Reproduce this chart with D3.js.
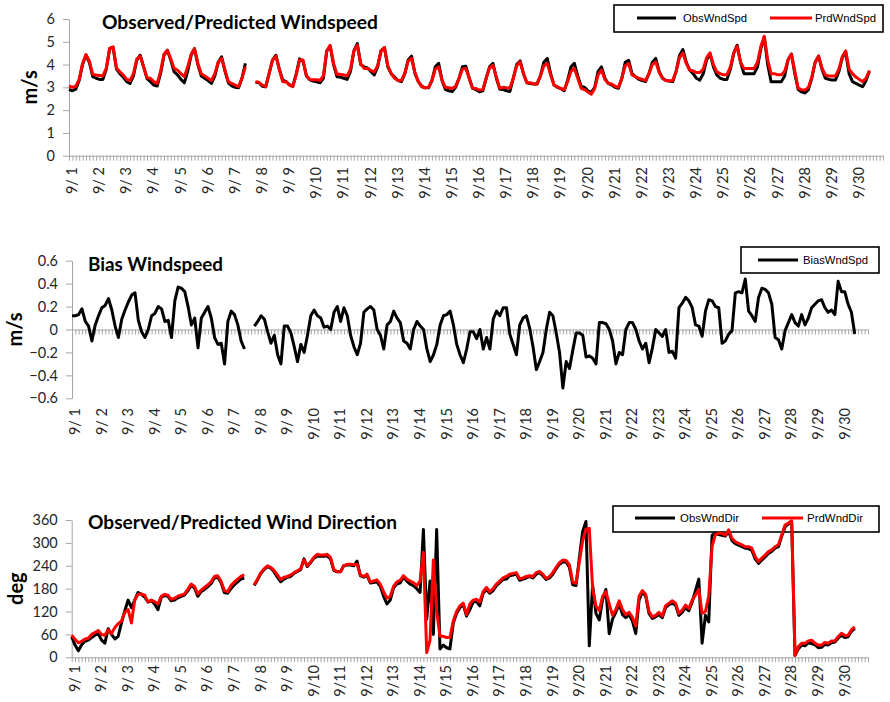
<!DOCTYPE html>
<html><head><meta charset="utf-8">
<script src="https://cdn.jsdelivr.net/npm/d3@7"></script>
<style>
html,body{margin:0;padding:0;background:#fff;}
svg{display:block;}
</style></head><body>
<svg id="chart" width="890" height="702"></svg>
<script>
// ---- data (3-hourly samples starting 9/1 00:00) ----
const seriesStart = Date.UTC(2013, 8, 1);
const stepHours = 3;
const dayLabels = ["9/ 1","9/ 2","9/ 3","9/ 4","9/ 5","9/ 6","9/ 7","9/ 8","9/ 9","9/10",
  "9/11","9/12","9/13","9/14","9/15","9/16","9/17","9/18","9/19","9/20",
  "9/21","9/22","9/23","9/24","9/25","9/26","9/27","9/28","9/29","9/30"];
const speedTicks = [0,1,2,3,4,5,6];
const biasTicks = [-0.6,-0.4,-0.2,0,0.2,0.4,0.6];
const dirTicks = [0,60,120,180,240,300,360];

const obsSpd = [
2.91,2.85,2.92,3.3,4.0,4.41,4.1,3.47,
3.4,3.35,3.35,3.8,4.7,4.75,3.8,3.6,
3.45,3.25,3.17,3.5,4.2,4.41,3.9,3.38,
3.25,3.1,3.06,3.6,4.4,4.63,4.2,3.68,
3.55,3.35,3.2,3.7,4.4,4.7,4.0,3.5,
3.4,3.3,3.17,3.5,4.1,4.34,3.7,3.2,
3.06,3.0,2.98,3.4,4.05,null,null,3.22,
3.2,3.05,3.02,3.6,4.2,4.41,3.8,3.32,
3.25,3.12,3.05,3.6,4.25,4.15,3.5,3.33,
3.28,3.24,3.2,3.4,4.6,4.8,4.0,3.47,
3.45,3.4,3.35,3.7,4.6,4.92,4.0,3.9,
3.85,3.7,3.55,3.9,4.6,4.75,3.9,3.6,
3.45,3.3,3.25,3.6,4.2,4.37,3.6,3.25,
3.05,2.98,2.98,3.3,3.9,4.05,3.3,2.9,
2.85,2.82,3.0,3.4,3.9,3.93,3.4,2.96,
2.9,2.81,2.85,3.4,3.9,4.05,3.4,2.92,
2.9,2.85,2.82,3.4,4.0,4.16,3.6,3.2,
3.17,3.15,3.15,3.5,4.1,4.27,3.6,3.1,
3.0,2.95,2.85,3.3,3.9,4.05,3.5,3.05,
3.0,2.85,2.78,3.0,3.7,3.9,3.4,3.17,
3.1,3.0,2.96,3.4,4.1,4.19,3.6,3.47,
3.35,3.3,3.25,3.6,4.1,4.27,3.7,3.4,
3.3,3.28,3.25,3.7,4.4,4.66,4.1,3.76,
3.6,3.4,3.32,3.6,4.2,4.48,3.9,3.55,
3.4,3.35,3.35,3.8,4.5,4.85,4.1,3.6,
3.6,3.6,3.6,3.9,4.7,5.2,4.0,3.25,
3.25,3.25,3.25,3.5,4.2,4.46,3.6,2.9,
2.8,2.75,2.9,3.4,4.1,4.37,3.8,3.4,
3.35,3.32,3.32,3.7,4.3,4.55,3.6,3.25,
3.17,3.1,3.03,3.3,3.72];

const prdSpd = [
3.06,3.0,3.05,3.35,4.05,4.44,4.15,3.57,
3.54,3.52,3.5,3.85,4.72,4.78,3.85,3.68,
3.55,3.35,3.3,3.6,4.25,4.37,3.9,3.42,
3.4,3.25,3.17,3.7,4.45,4.63,4.25,3.83,
3.75,3.6,3.47,3.9,4.45,4.7,4.05,3.6,
3.5,3.4,3.3,3.6,4.1,4.27,3.75,3.25,
3.17,3.1,3.03,3.4,3.9,null,null,3.25,
3.22,3.1,3.03,3.6,4.2,4.37,3.8,3.25,
3.25,3.1,3.03,3.55,4.2,4.2,3.5,3.35,
3.33,3.33,3.3,3.5,4.6,4.85,4.05,3.57,
3.57,3.55,3.5,3.8,4.6,4.85,4.05,3.83,
3.83,3.75,3.68,3.95,4.6,4.75,3.95,3.6,
3.4,3.3,3.3,3.6,4.15,4.27,3.65,3.25,
3.02,2.98,3.0,3.3,3.8,3.9,3.3,3.0,
2.98,2.95,3.05,3.4,3.8,3.83,3.4,2.96,
2.95,2.88,2.9,3.4,3.85,3.97,3.45,2.96,
3.0,2.98,2.97,3.4,3.95,4.12,3.6,3.2,
3.2,3.15,3.15,3.5,3.95,4.05,3.55,3.1,
3.02,2.95,2.9,3.25,3.7,3.83,3.4,2.96,
2.9,2.8,2.7,2.95,3.55,3.76,3.35,3.17,
3.15,3.05,3.0,3.4,3.95,4.05,3.55,3.47,
3.4,3.35,3.3,3.6,4.0,4.12,3.65,3.4,
3.3,3.28,3.3,3.7,4.3,4.51,4.05,3.76,
3.72,3.65,3.65,3.8,4.3,4.51,4.0,3.68,
3.6,3.55,3.55,3.9,4.5,4.8,4.1,3.83,
3.83,3.83,3.83,4.1,4.8,5.24,4.2,3.6,
3.6,3.55,3.55,3.7,4.2,4.46,3.7,2.96,
2.9,2.88,3.0,3.45,4.1,4.37,3.85,3.54,
3.5,3.5,3.5,3.8,4.35,4.6,3.8,3.6,
3.45,3.35,3.25,3.4,3.74];

const biasSpd = [
0.12,0.12,0.13,0.18,0.07,0.03,-0.1,0.04,
0.12,0.19,0.21,0.27,0.17,0.03,-0.07,0.09,
0.17,0.24,0.3,0.32,0.08,-0.02,-0.07,0.0,
0.12,0.14,0.2,0.18,0.07,0.08,-0.07,0.25,
0.37,0.36,0.33,0.2,0.04,0.1,-0.16,0.1,
0.15,0.2,0.1,-0.07,-0.13,-0.12,-0.3,0.07,
0.16,0.13,0.04,-0.1,-0.17,null,null,0.03,
0.07,0.12,0.09,-0.02,-0.12,-0.05,-0.22,-0.3,
0.03,0.03,-0.03,-0.15,-0.28,-0.13,-0.2,-0.05,
0.12,0.17,0.12,0.1,0.02,0.03,0.0,0.15,
0.2,0.07,0.19,0.12,-0.05,-0.15,-0.22,-0.12,
0.15,0.18,0.2,0.17,0.0,-0.05,-0.17,0.04,
0.07,0.16,0.1,0.06,-0.1,-0.12,-0.17,0.0,
0.07,0.03,0.0,-0.17,-0.28,-0.22,-0.13,0.04,
0.12,0.13,0.16,0.04,-0.13,-0.22,-0.29,-0.17,
-0.02,-0.02,-0.08,0.0,-0.17,-0.07,-0.17,0.09,
0.16,0.12,0.19,0.19,-0.04,-0.13,-0.22,0.04,
0.1,0.12,0.01,-0.15,-0.35,-0.28,-0.2,0.0,
0.15,0.12,-0.03,-0.2,-0.51,-0.28,-0.34,-0.18,
-0.03,-0.03,-0.05,-0.24,-0.23,-0.25,-0.3,0.06,
0.06,0.05,0.0,-0.1,-0.3,-0.2,-0.22,0.0,
0.06,0.06,0.0,-0.1,-0.17,-0.12,-0.29,-0.16,
0.0,-0.03,-0.06,0.0,-0.2,-0.19,-0.25,0.19,
0.23,0.28,0.25,0.19,0.04,0.03,-0.06,0.16,
0.26,0.25,0.2,0.19,-0.12,-0.1,-0.04,-0.01,
0.32,0.33,0.32,0.44,0.16,0.12,0.07,0.28,
0.36,0.35,0.32,0.22,-0.07,-0.09,-0.17,-0.01,
0.06,0.13,0.06,0.03,0.13,0.04,0.1,0.19,
0.22,0.25,0.26,0.19,0.15,0.17,0.13,0.42,
0.33,0.33,0.22,0.15,-0.04];

const obsDir = [
54,32,17,33,42,45,52,58,
62,45,37,75,60,48,55,90,
122,150,130,150,170,165,158,145,
148,140,125,158,162,160,148,150,
156,160,163,174,188,182,160,172,
178,185,193,208,210,196,170,168,
180,190,198,205,208,null,null,188,
203,220,230,238,234,224,210,198,
205,210,212,220,225,230,258,238,
248,260,265,265,265,266,258,228,
224,224,240,242,242,240,252,214,
210,215,195,196,198,186,160,140,
150,182,192,195,210,200,192,188,
180,170,335,100,200,60,335,22,
32,25,22,90,115,130,138,108,
125,145,146,135,168,178,168,175,
188,196,204,205,214,216,218,202,
205,208,212,208,218,222,214,204,
208,218,232,244,250,250,236,190,
188,260,330,356,30,190,115,98,
150,178,62,100,118,140,112,104,
112,95,62,150,172,160,115,102,
106,112,104,130,138,142,137,110,
118,130,122,145,175,205,37,110,
93,320,325,322,320,318,330,306,
298,294,290,286,285,280,258,246,
255,263,272,278,286,290,318,342,
350,352,5,22,32,30,38,36,
33,25,26,34,32,38,40,50,
58,52,54,68,76];

const prdDir = [
58,47,38,42,48,50,60,65,
70,60,58,72,62,78,88,95,
118,125,90,150,165,166,163,145,
150,146,140,160,165,163,152,155,
160,163,166,178,192,186,166,176,
183,190,198,212,214,200,175,172,
188,197,205,212,216,null,null,190,
205,222,232,240,236,228,216,204,
210,212,216,222,227,232,255,240,
250,262,270,268,268,270,262,230,
225,224,240,244,244,243,244,216,
212,218,197,200,203,192,172,155,
160,186,198,202,214,205,200,196,
188,200,275,12,45,255,120,55,
55,52,52,95,120,135,142,112,
140,150,152,145,172,183,172,180,
192,200,208,212,218,220,222,206,
208,212,214,212,222,225,218,207,
212,222,236,248,255,254,242,198,
194,250,305,336,338,181,135,122,
160,172,140,110,125,148,125,112,
118,105,82,160,175,165,120,106,
110,118,108,135,142,148,142,115,
124,137,128,150,163,178,115,120,
160,290,322,325,325,320,334,312,
303,299,295,290,290,286,264,251,
260,268,277,282,290,295,321,347,
352,358,5,28,37,37,43,45,
37,32,32,39,37,43,43,54,
63,57,58,72,80];

// ---- drawing ----
const svg = d3.select("#chart");
const tAt = i => new Date(seriesStart + i * stepHours * 3600e3);
const dayAt = k => new Date(seriesStart + k * 86400e3);
const AXIS = "#a6a6a6";
const TICKFONT = "Lato, 'DejaVu Sans', sans-serif";

function panel(cfg) {
  const x = d3.scaleUtc().domain([dayAt(0), dayAt(30)]).range([cfg.x0, cfg.x1]);
  const y = d3.scaleLinear().domain([cfg.yTicks[0], cfg.yTicks[cfg.yTicks.length-1]]).range([cfg.yBot, cfg.yTop]);
  const g = svg.append("g");

  // legend box (behind data)
  const lg = g.append("g");
  lg.append("rect").attr("x", cfg.legend.x).attr("y", cfg.legend.y)
    .attr("width", cfg.legend.w).attr("height", cfg.legend.h)
    .attr("fill", "none").attr("stroke", "#000").attr("stroke-width", 1.6);
  cfg.legend.items.forEach(it => {
    lg.append("line").attr("x1", it.lx1).attr("x2", it.lx2).attr("y1", cfg.legend.ly).attr("y2", cfg.legend.ly)
      .attr("stroke", it.color).attr("stroke-width", 3);
    lg.append("text").attr("x", it.tx).attr("y", cfg.legend.ly + 4)
      .attr("font-family", "'Liberation Sans', Arial, sans-serif").attr("font-size", 11.5)
      .attr("textLength", it.tl).attr("lengthAdjust", "spacingAndGlyphs")
      .attr("fill", "#000").text(it.name);
  });

  // y axis
  const ya = d3.axisLeft(y).tickValues(cfg.yTicks).tickSize(6).tickSizeOuter(0).tickPadding(8)
    .tickFormat(cfg.yFormat);
  const yg = g.append("g").attr("transform", `translate(${cfg.x0},0)`).call(ya);
  yg.select(".domain").attr("stroke", AXIS);
  yg.selectAll(".tick line").attr("stroke", AXIS);
  yg.selectAll(".tick text").attr("font-family", TICKFONT).attr("font-size", 14.5).attr("fill", "#262626");

  // x axis (minor ticks every 3 hours)
  const xa = d3.axisBottom(x).ticks(d3.utcHour.every(3)).tickSize(5).tickSizeOuter(0).tickFormat("");
  const xg = g.append("g").attr("transform", `translate(0,${y(cfg.xAxisAt)})`).call(xa);
  xg.select(".domain").attr("stroke", AXIS);
  xg.selectAll(".tick line").attr("stroke", AXIS);

  // day labels
  g.append("g").selectAll("text").data(dayLabels).join("text")
    .attr("transform", (d, k) => `translate(${x(dayAt(k)) + 3},${cfg.labelTop}) rotate(-90)`)
    .attr("text-anchor", "end").attr("dy", "0.35em")
    .attr("font-family", TICKFONT).attr("font-size", 14.5).attr("fill", "#262626")
    .text(d => d);

  // series
  cfg.series.forEach(s => {
    const line = d3.line().defined(d => d != null).x((d, i) => x(tAt(i))).y(d => y(d));
    g.append("path").datum(s.data).attr("d", line).attr("fill", "none")
      .attr("stroke", s.color).attr("stroke-width", 3).attr("stroke-linejoin", "round");
  });

  // title
  g.append("text").attr("x", cfg.title.x).attr("y", cfg.title.y)
    .attr("font-family", "Lato, 'Open Sans', sans-serif").attr("font-weight", 700).attr("font-size", 18)
    .attr("textLength", cfg.title.len).attr("lengthAdjust", "spacingAndGlyphs")
    .attr("fill", "#000").text(cfg.title.text);

  // y axis title
  g.append("text").attr("transform", `translate(${cfg.yTitle.x},${(cfg.yTop + cfg.yBot) / 2}) rotate(-90)`)
    .attr("text-anchor", "middle").attr("dy", "0.3em")
    .attr("font-family", "Lato, 'Open Sans', sans-serif").attr("font-weight", 700).attr("font-size", 20)
    .attr("fill", "#000").text(cfg.yTitle.text);
}

panel({
  x0: 69, x1: 883, yTop: 19, yBot: 155.7, yTicks: speedTicks, yFormat: d3.format("d"), xAxisAt: 0, labelTop: 167,
  title: {text: "Observed/Predicted Windspeed", x: 102, y: 29.3, len: 276},
  yTitle: {text: "m/s", x: 31},
  legend: {x: 614, y: 5, w: 269, h: 27, ly: 18, items: [
    {name: "ObsWndSpd", color: "#000", lx1: 637, lx2: 676, tx: 683, tl: 64},
    {name: "PrdWndSpd", color: "#ff0000", lx1: 770, lx2: 812, tx: 815, tl: 61}]},
  series: [{data: obsSpd, color: "#000"}, {data: prdSpd, color: "#ff0000"}]
});

panel({
  x0: 72, x1: 868, yTop: 260.7, yBot: 398.3, yTicks: biasTicks, yFormat: d => d === 0 ? "0" : d3.format(".1f")(d),
  xAxisAt: 0, labelTop: 408,
  title: {text: "Bias Windspeed", x: 88, y: 270.7, len: 135},
  yTitle: {text: "m/s", x: 16},
  legend: {x: 741, y: 247, w: 138, h: 26, ly: 260, items: [
    {name: "BiasWndSpd", color: "#000", lx1: 758, lx2: 798, tx: 803, tl: 65}]},
  series: [{data: biasSpd, color: "#000"}]
});

panel({
  x0: 71.7, x1: 868, yTop: 520, yBot: 657.3, yTicks: dirTicks, yFormat: d3.format("d"), xAxisAt: 0, labelTop: 665,
  title: {text: "Observed/Predicted Wind Direction", x: 88, y: 529, len: 309},
  yTitle: {text: "deg", x: 17},
  legend: {x: 613, y: 506, w: 266, h: 26, ly: 518, items: [
    {name: "ObsWndDir", color: "#000", lx1: 635, lx2: 675, tx: 680, tl: 59},
    {name: "PrdWndDir", color: "#ff0000", lx1: 762, lx2: 803, tx: 807, tl: 56}]},
  series: [{data: obsDir, color: "#000"}, {data: prdDir, color: "#ff0000"}]
});
</script>
</body></html>
